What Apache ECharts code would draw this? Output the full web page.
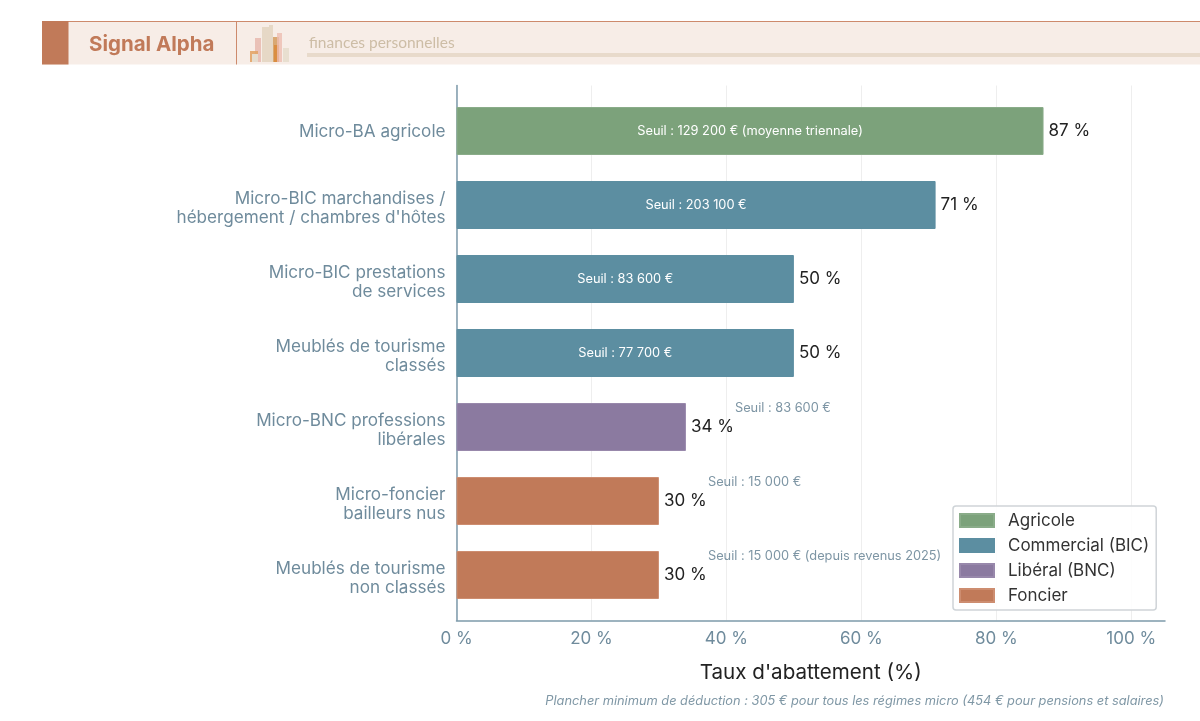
<!DOCTYPE html>
<html><head><meta charset="utf-8">
<style>html,body{margin:0;padding:0;background:#fff}#c{width:1200px;height:721px}</style>
<script src="https://cdn.jsdelivr.net/npm/echarts@6/dist/echarts.min.js"></script>
</head><body><div id="c"></div>
<script>
const categories = ["Micro-BA agricole","Micro-BIC marchandises /\nhébergement / chambres d'hôtes","Micro-BIC prestations\nde services","Meublés de tourisme\nclassés","Micro-BNC professions\nlibérales","Micro-foncier\nbailleurs nus","Meublés de tourisme\nnon classés"];
const agricole   = [87,null,null,null,null,null,null];
const commercial = [null,71,50,50,null,null,null];
const liberal    = [null,null,null,null,34,null,null];
const foncier    = [null,null,null,null,null,30,30];
const seuils = ["Seuil : 129 200 € (moyenne triennale)","Seuil : 203 100 €","Seuil : 83 600 €","Seuil : 77 700 €","Seuil : 83 600 €","Seuil : 15 000 €","Seuil : 15 000 € (depuis revenus 2025)"];
const insideBar = [true,true,true,true,false,false,false];
const totals = [87,71,50,50,34,30,30];
const F = 'Inter, "Noto Sans", sans-serif';
const AX = '#6f8b9c', AXL = '#7d9aab';

function mk(name, data, color, border){
  return {name, type:'bar', xAxisIndex:0, yAxisIndex:0, stack:'r', data, barWidth:48,
    itemStyle:{color, borderColor:border, borderWidth:1, opacity:1},
    label:{show:true, position:'right', distance:5, fontFamily:F, fontSize:17, color:'#222', formatter:p=>p.value+' %'}};
}
const seuilData = totals.map((v,i)=>({value:v,
  label: insideBar[i]
    ? {position:'inside', color:'#fff', fontSize:12.8, fontFamily:F, formatter:seuils[i]}
    : {position:'right', distance:0, offset:[49,-19], color:'#7d95a4', fontSize:12.8, fontFamily:F, formatter:seuils[i]}
}));

const R = (x,y,w,h,fill,op)=>({type:'rect',shape:{x,y,width:w,height:h},style:{fill,opacity:op===undefined?1:op},silent:true});
const catLabel = v => {
  const lines = String(v).split('\n');
  return (lines.length>1?'{s2|}':'{s1|}')+'\n'+lines.map(l=>'{t|'+l+'}').join('\n');
};
const option = {
  animation:false,
  backgroundColor:'#fff',
  textStyle:{fontFamily:F},
  color:['#7ca27b','#5c8ea1','#8b7aa0','#c17a59'],
  grid:[
    {left:456.5,right:35,top:94,height:518},
    {left:456.5,right:35,top:85.5,height:535,z:0}
  ],
  xAxis:[
    {gridIndex:0,type:'value',min:0,max:105,show:false},
    {gridIndex:1,type:'value',min:0,max:105,interval:20,
      name:"Taux d'abattement (%)",nameLocation:'middle',nameGap:42,
      nameTextStyle:{fontFamily:F,fontSize:20.6,color:'#222'},
      axisLine:{show:true,lineStyle:{color:AXL,width:1.5}},axisTick:{show:false},
      axisLabel:{fontFamily:F,fontSize:17,color:AX,margin:10,formatter:'{value} %',hideOverlap:false},
      splitLine:{show:true,showMaxLine:false,lineStyle:{color:'#eeeeee',width:1}}}
  ],
  yAxis:[
    {gridIndex:0,type:'category',inverse:true,data:categories,
      axisLine:{show:false},axisTick:{show:false},
      axisLabel:{margin:11,align:'right',formatter:catLabel,
        rich:{
          t:{fontFamily:F,fontSize:17.13,color:AX,lineHeight:19.5,align:'right'},
          s1:{height:2,lineHeight:2,fontSize:1},
          s2:{height:7,lineHeight:7,fontSize:1}
        }}},
    {gridIndex:1,type:'value',min:0,max:1,axisLabel:{show:false},axisTick:{show:false},splitLine:{show:false},
      axisLine:{show:true,lineStyle:{color:AXL,width:1.5}}}
  ],
  legend:{
    left:953,top:506,orient:'vertical',padding:[6,7,6,6],itemWidth:34,itemHeight:13,itemGap:8,icon:'rect',
    backgroundColor:'rgba(255,255,255,0.85)',borderColor:'#cfd4d8',borderWidth:1.5,borderRadius:3,
    textStyle:{fontFamily:F,fontSize:17,color:'#333',padding:[0,0,0,9]},
    data:['Agricole','Commercial (BIC)','Libéral (BNC)','Foncier']
  },
  series:[
    mk('Agricole',agricole,'#7ca27b','#8aac89'),
    mk('Commercial (BIC)',commercial,'#5c8ea1','#5c8ea1'),
    mk('Libéral (BNC)',liberal,'#8b7aa0','#9888ab'),
    mk('Foncier',foncier,'#c17a59','#cd8d70'),
    {name:'seuil',type:'bar',xAxisIndex:0,yAxisIndex:0,barWidth:48,barGap:'-100%',z:5,
      itemStyle:{color:'transparent'},label:{show:true},data:seuilData,
      emphasis:{disabled:true},tooltip:{show:false}}
  ],
  graphic:[
    R(42,21.5,1158,43,'#f7ede7'),
    R(42,21,1158,1,'#cd8a6c'),
    R(42,21,26.5,43.5,'#c17a59'),
    R(236,21,1,43.5,'#cd8a6c'),
    R(255,38,6,24,'#e8b8ae',.85),
    R(262,27,7,35,'#e6d8c6'),
    R(269,25,4,37,'#e6d8c6'),
    R(273,37,6,25,'#d9a873'),
    R(274,45,5,17,'#d98a3a',.85),
    R(277,33,5,29,'#ecbdb2',.8),
    R(283,48,6,14,'#e8dfd0'),
    R(250,51,8,11,'#e2a468',.9),
    R(252,54,6,8,'#e6ddcf'),
    R(307,53,893,4,'#e8dacb'),
    {type:'text',left:89,top:34,style:{text:'Signal Alpha',font:'700 20.5px Inter, sans-serif',fill:'#c17a59'},silent:true},
    {type:'text',left:309,top:35,style:{text:'finances personnelles',font:'15.5px Lato, sans-serif',fill:'#cdbda6'},silent:true},
    {type:'text',right:36,top:695,style:{text:'Plancher minimum de déduction : 305 € pour tous les régimes micro (454 € pour pensions et salaires)',font:'italic 12.8px '+F,fill:'#7f97a5'},silent:true}
  ]
};
echarts.init(document.getElementById('c'),null,{renderer:'canvas'}).setOption(option);
</script></body></html>
